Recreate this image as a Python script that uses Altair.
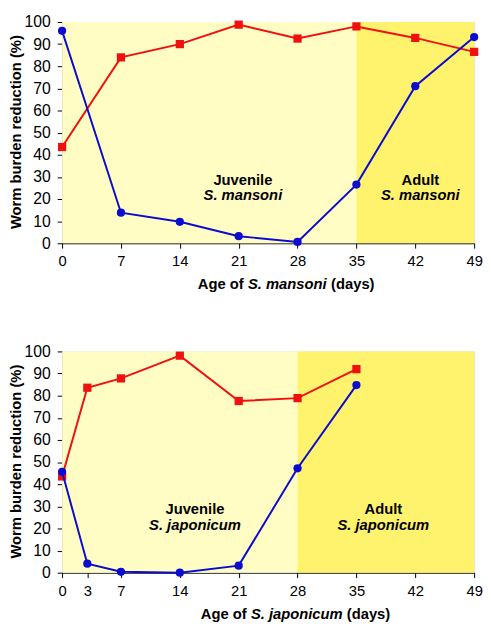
import altair as alt
import pandas as pd

# ---------------- data ----------------
# Panel 1: S. mansoni
mansoni_days = [0, 7, 14, 21, 28, 35, 42, 49]
mansoni_red = [43.5, 84, 90, 98.8, 92.5, 98, 92.8, 86.5]
mansoni_blue = [96, 13.8, 9.7, 3.2, 0.6, 26.5, 71, 93.2]
mansoni_ticks = [0, 7, 14, 21, 28, 35, 42, 49]
mansoni_phase_start = [0, 35]
mansoni_phase_end = [35, 49]

# Panel 2: S. japonicum
japonicum_days = [0, 3, 7, 14, 21, 28, 35]
japonicum_red = [43.5, 83.6, 87.8, 98.1, 77.6, 78.9, 92.0]
japonicum_blue = [45.6, 4.1, 0.4, 0.0, 3.2, 47.2, 84.8]
japonicum_ticks = [0, 3, 7, 14, 21, 28, 35, 42, 49]
japonicum_phase_start = [0, 28]
japonicum_phase_end = [28, 49]

phase_names = ["Juvenile", "Adult"]
phase_colors = ["#FFFDC4", "#FFF36E"]
y_ticks = [0, 10, 20, 30, 40, 50, 60, 70, 80, 90, 100]

# annotation positions (data units)
mansoni_ann_x = [21.5, 42.6]
japonicum_ann_x = [15.8, 38.2]
ann_y_line1 = 28.6
ann_y_line2 = 21.6

W, H = 419, 225
FONT = "Liberation Sans"
RED = "#F01010"
BLUE = "#0C0CD0"


def panel(days, red, blue, ticks, pstart, pend, ann_x, species, title_pos):
    xs = alt.Scale(domain=[0, 49], nice=False, zero=False)
    ys = alt.Scale(domain=[0, 100], nice=False)
    xaxis = alt.Axis(values=ticks, title=None, grid=False, tickSize=5,
                     labelPadding=6, labelFontSize=15, labelFont=FONT,
                     labelColor="black", domainColor="black", tickColor="black",
                     labelOverlap=False, labelFlush=False)
    yaxis = alt.Axis(values=y_ticks, title="Worm burden reduction (%)",
                     grid=False, tickSize=5, labelPadding=7, labelFontSize=16,
                     labelFont=FONT, labelColor="black", domainColor="black",
                     tickColor="black", titleFont=FONT, titleFontSize=15,
                     titleFontWeight="bold", titleColor="black",
                     titleX=-47, titleY=H / 2 - 1, titleBaseline="middle",
                     titleAngle=270, labelOverlap=False, labelFlush=False)

    X = lambda f: alt.X(f, scale=xs, axis=xaxis)
    Y = lambda f: alt.Y(f, scale=ys, axis=yaxis)

    bg = pd.DataFrame({"start": pstart, "end": pend, "lo": [0, 0], "hi": [100, 100],
                       "phase": phase_names, "fill": phase_colors})
    back = alt.Chart(bg).mark_rect().encode(
        x=X("start:Q"),
        x2="end:Q",
        y=Y("lo:Q"),
        y2="hi:Q",
        color=alt.Color("fill:N", scale=None),
    )

    red_df = pd.DataFrame({"day": days, "value": red})
    blue_df = pd.DataFrame({"day": days, "value": blue})

    def series(df, color, shape, size):
        base = alt.Chart(df).encode(x=X("day:Q"), y=Y("value:Q"))
        line = base.mark_line(color=color, strokeWidth=2)
        pts = base.mark_point(shape=shape, filled=True, color=color, size=size, opacity=1)
        return line + pts

    ann = pd.DataFrame({"x": ann_x, "phase": phase_names, "sp": [species, species],
                        "y1": [ann_y_line1] * 2, "y2": [ann_y_line2] * 2})
    t1 = alt.Chart(ann).mark_text(font=FONT, fontSize=15, fontWeight="bold",
                                  color="black").encode(
        x=X("x:Q"), y=Y("y1:Q"), text="phase:N")
    t2 = alt.Chart(ann).mark_text(font=FONT, fontSize=15, fontWeight="bold",
                                  fontStyle="italic", color="black").encode(
        x=X("x:Q"), y=Y("y2:Q"), text="sp:N")

    # x-axis title built from three text pieces (mixed italic)
    pieces = []
    styles = ["normal", "italic", "normal"]
    for txt, st, px in zip(["Age of", species, "(days)"], styles, title_pos):
        pieces.append(
            alt.Chart(pd.DataFrame({"t": [txt]})).mark_text(
                font=FONT, fontSize=15, fontWeight="bold", fontStyle=st,
                align="left", baseline="middle", color="black"
            ).encode(x=alt.value(px), y=alt.value(H + 42), text="t:N")
        )

    layers = [back, series(red_df, RED, "square", 70), series(blue_df, BLUE, "circle", 70),
              t1, t2] + pieces
    return alt.layer(*layers).properties(width=W, height=H)


top = panel(mansoni_days, mansoni_red, mansoni_blue, mansoni_ticks,
            mansoni_phase_start, mansoni_phase_end, mansoni_ann_x, "S. mansoni",
            [138, 189, 273.5])
bottom = panel(japonicum_days, japonicum_red, japonicum_blue, japonicum_ticks,
               japonicum_phase_start, japonicum_phase_end, japonicum_ann_x, "S. japonicum",
               [141, 192, 289.5])

chart = alt.vconcat(top, bottom, spacing=50).properties(
    padding=0,
).configure_view(stroke=None).configure(background="white").configure_axis(
    labelOverlap=False
)

chart.save("out.html", embed_options={"renderer": "svg", "actions": False})
